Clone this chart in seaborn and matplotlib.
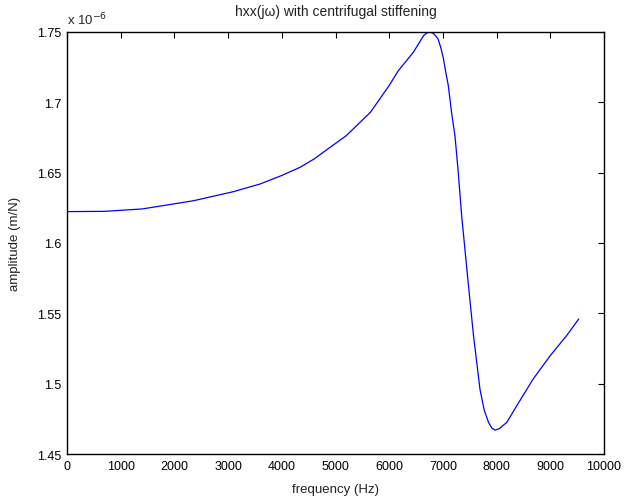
import matplotlib
matplotlib.use("Agg")
import matplotlib.pyplot as plt
import seaborn as sns
import pandas as pd

# frequency (Hz)
frequency = [0, 700, 1400, 2350, 3100, 3600, 4000, 4340, 4600, 5200, 5650, 6000,
             6170, 6450, 6640, 6700, 6760, 6820, 6870, 6910, 6960, 7010, 7050,
             7100, 7160, 7225, 7280, 7350, 7470, 7570, 7690, 7770, 7850, 7910,
             7970, 8050, 8110, 8190, 8370, 8680, 9000, 9300, 9530]
# amplitude in units of 1e-6 m/N
amplitude_e6 = [1.6223, 1.6225, 1.6242, 1.6300, 1.6365, 1.6420, 1.6480, 1.6538,
                1.6597, 1.6763, 1.6929, 1.7120, 1.7225, 1.7356, 1.7474, 1.7493,
                1.7500, 1.7490, 1.7470, 1.7450, 1.7390, 1.7310, 1.7220, 1.7120,
                1.6930, 1.6760, 1.6526, 1.6190, 1.5720, 1.5340, 1.4960, 1.4810,
                1.4725, 1.4685, 1.4670, 1.4680, 1.4700, 1.4725, 1.4840, 1.5033,
                1.5200, 1.5340, 1.5460]

xticks = [0, 1000, 2000, 3000, 4000, 5000, 6000, 7000, 8000, 9000, 10000]
yticks = [1.45, 1.5, 1.55, 1.6, 1.65, 1.7, 1.75]
ytick_labels = ["1.45", "1.5", "1.55", "1.6", "1.65", "1.7", "1.75"]

sns.set_style("white")
plt.rcParams["font.family"] = ["Liberation Sans", "DejaVu Sans"]

df = pd.DataFrame({"frequency": frequency, "amplitude": amplitude_e6})

fig = plt.figure(figsize=(6.29, 5.02), dpi=100)
ax = fig.add_axes([0.1065, 0.0936, 0.8538, 0.8407])
sns.lineplot(data=df, x="frequency", y="amplitude", ax=ax, color=(0, 0, 1),
             linewidth=0.9)

ax.set_xlim(0, 10000)
ax.set_ylim(1.45, 1.75)
ax.set_xticks(xticks)
ax.set_xticklabels([str(t) for t in xticks])
ax.set_yticks(yticks)
ax.set_yticklabels(ytick_labels)
ax.tick_params(direction="in", length=4, width=0.8, top=True, right=True,
               labelsize=9, colors="black", pad=4)
for s in ax.spines.values():
    s.set_visible(True)
    s.set_color("black")
    s.set_linewidth(1.0)

ax.set_xlabel("frequency (Hz)", fontsize=9.5, labelpad=8, color="#222222")
ax.set_ylabel("amplitude (m/N)", fontsize=9.5, labelpad=12, color="#222222")
ax.set_title("hxx(jω) with centrifugal stiffening", fontsize=10, pad=12,
             color="#222222")
ax.text(0.0, 1.012, r"x 10$^{-6}$", transform=ax.transAxes, fontsize=9.5,
        ha="left", va="bottom")

fig.savefig("out.png", dpi=100)
